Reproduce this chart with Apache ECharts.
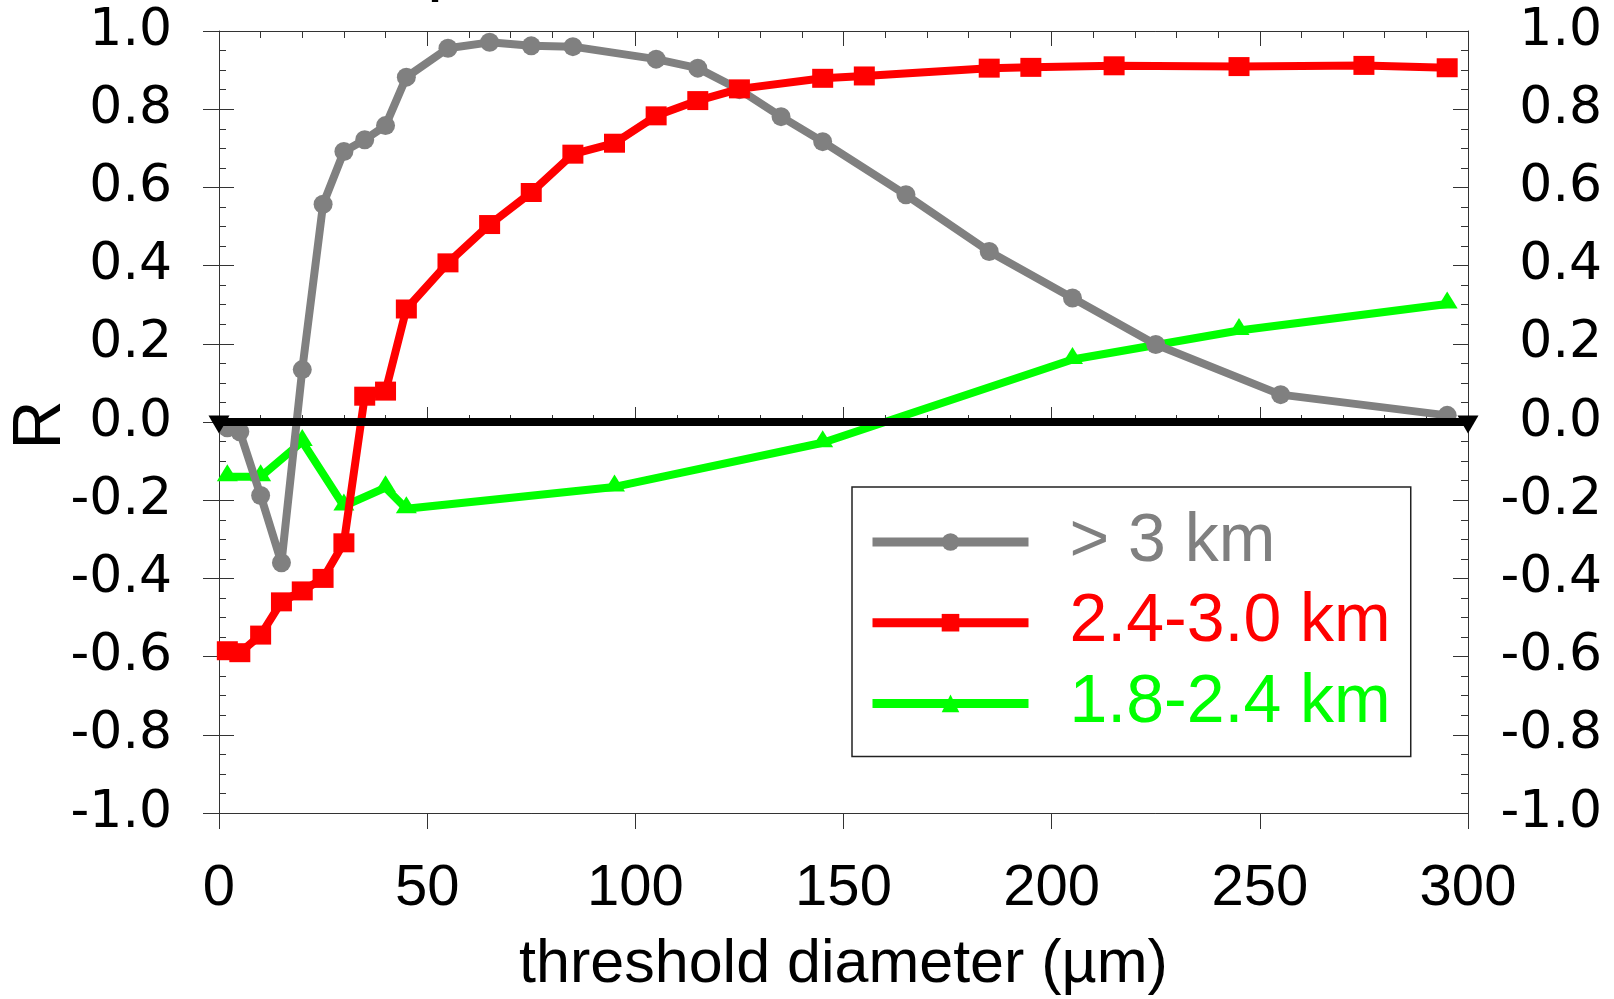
<!DOCTYPE html>
<html>
<head>
<meta charset="utf-8">
<title>R vs threshold diameter</title>
<script src="https://cdn.jsdelivr.net/npm/echarts@6/dist/echarts.min.js"></script>
<style>
  html, body { margin: 0; padding: 0; background: #fff; }
  #chart { width: 1614px; height: 999px; }
</style>
</head>
<body>
<div id="chart"></div>
<script>
// threshold diameter (um) -> correlation R, one pair of arrays per height band
var grayName = '> 3 km'
var grayX = [2, 5, 10, 15, 20, 25, 30, 35, 40, 45, 55, 65, 75, 85, 105, 115, 125, 135, 145, 165, 185, 205, 225, 255, 295]
var grayR = [-0.015, -0.025, -0.188, -0.36, 0.134, 0.557, 0.692, 0.722, 0.758, 0.882, 0.956, 0.971, 0.962, 0.96, 0.928, 0.905, 0.85, 0.781, 0.717, 0.581, 0.436, 0.317, 0.198, 0.07, 0.017]

var redName = '2.4-3.0 km'
var redX = [2, 5, 10, 15, 20, 25, 30, 35, 40, 45, 55, 65, 75, 85, 95, 105, 115, 125, 145, 155, 185, 195, 215, 245, 275, 295]
var redR = [-0.585, -0.59, -0.545, -0.46, -0.432, -0.4, -0.309, 0.066, 0.079, 0.289, 0.407, 0.505, 0.587, 0.685, 0.713, 0.783, 0.822, 0.852, 0.879, 0.885, 0.905, 0.907, 0.911, 0.909, 0.912, 0.906]

var greenName = '1.8-2.4 km'
var greenX = [2, 10, 20, 30, 40, 45, 95, 145, 205, 245, 295]
var greenR = [-0.14, -0.14, -0.05, -0.215, -0.168, -0.222, -0.166, -0.053, 0.16, 0.234, 0.302]

// zero reference line
var zeroX = [0, 300]
var zeroR = [0, 0]

var xTicks = { min: 0, max: 300, interval: 50 }
var yTicks = { min: -1, max: 1, interval: 0.2 }

function pairs(xs, ys) {
  var out = []
  xs.forEach(function (x, i) {
    out.push([x, ys[i]])
  })
  return out
}

var axisColor = '#333'
var labelFont = 'DejaVu Sans'
var textFont = 'Liberation Sans'

function yLabel(v) {
  return v.toFixed(1)
}

var chart = echarts.init(document.getElementById('chart'))

var option = {
  animation: false,
  backgroundColor: '#fff',
  grid: { left: 219, top: 31, width: 1249, height: 782, containLabel: false, outerBoundsMode: 'none' },
  graphic: [
    {
      // tail of a title that sits above the page
      type: 'text', x: 427, y: -33, silent: true,
      style: { text: 'p', font: '72px "Liberation Sans"', fill: '#000', verticalAlign: 'middle' }
    },
    {
      // y axis title, rotated
      type: 'text', x: 41, y: 425, rotation: Math.PI / 2, silent: true,
      style: { text: 'R', font: '68px "Liberation Sans"', fill: '#000', align: 'center', verticalAlign: 'middle' }
    }
  ],
  legend: {
    orient: 'vertical',
    left: 852,
    top: 487,
    padding: [21, 20, 19, 16],
    itemWidth: 156,
    itemHeight: 22,
    itemGap: 12.7,
    borderColor: '#222',
    borderWidth: 1.5,
    backgroundColor: '#fff',
    lineStyle: { width: 9 },
    textStyle: { fontFamily: textFont, fontSize: 68, padding: [4, 0, 0, 36] },
    data: [
      { name: grayName, textStyle: { color: '#808080' } },
      { name: redName, textStyle: { color: '#ff0000' } },
      { name: greenName, textStyle: { color: '#00ff00' } }
    ]
  },
  xAxis: [
    {
      type: 'value', position: 'bottom', min: xTicks.min, max: xTicks.max, interval: xTicks.interval,
      name: 'threshold diameter (\u00b5m)', nameLocation: 'middle', nameGap: 122,
      nameTextStyle: { fontFamily: textFont, fontSize: 61, color: '#000' },
      axisLine: { show: true, onZero: false, lineStyle: { color: axisColor, width: 1 } },
      axisTick: { show: true, inside: false, length: 16, lineStyle: { color: axisColor } },
      axisLabel: { fontFamily: textFont, fontSize: 58, color: '#000', margin: 47 },
      splitLine: { show: false }
    },
    {
      type: 'value', position: 'bottom', min: xTicks.min, max: xTicks.max, interval: xTicks.interval,
      axisLine: { show: false },
      axisTick: { show: true, inside: true, length: 15, lineStyle: { color: axisColor } },
      minorTick: { show: true, splitNumber: 5, length: 7, lineStyle: { color: axisColor } },
      axisLabel: { show: false },
      splitLine: { show: false }
    },
    {
      type: 'value', position: 'top', min: xTicks.min, max: xTicks.max, interval: xTicks.interval,
      axisLine: { show: true, onZero: false, lineStyle: { color: axisColor, width: 1 } },
      axisTick: { show: true, inside: true, length: 15, lineStyle: { color: axisColor } },
      minorTick: { show: true, splitNumber: 5, length: 7, lineStyle: { color: axisColor } },
      axisLabel: { show: false },
      splitLine: { show: false }
    }
  ],
  yAxis: [
    {
      type: 'value', position: 'left', min: yTicks.min, max: yTicks.max, interval: yTicks.interval,
      axisLine: { show: true, onZero: false, lineStyle: { color: axisColor, width: 1 } },
      axisTick: { show: true, inside: false, length: 16, lineStyle: { color: axisColor } },
      axisLabel: { fontFamily: labelFont, fontSize: 52, color: '#000', margin: 47, formatter: yLabel },
      splitLine: { show: false }
    },
    {
      type: 'value', position: 'left', min: yTicks.min, max: yTicks.max, interval: yTicks.interval,
      axisLine: { show: false },
      axisTick: { show: true, inside: true, length: 15, lineStyle: { color: axisColor } },
      minorTick: { show: true, splitNumber: 4, length: 7, lineStyle: { color: axisColor } },
      axisLabel: { show: false },
      splitLine: { show: false }
    },
    {
      type: 'value', position: 'right', min: yTicks.min, max: yTicks.max, interval: yTicks.interval,
      axisLine: { show: true, onZero: false, lineStyle: { color: axisColor, width: 1 } },
      axisTick: { show: true, inside: true, length: 15, lineStyle: { color: axisColor } },
      minorTick: { show: true, splitNumber: 4, length: 7, lineStyle: { color: axisColor } },
      axisLabel: { fontFamily: labelFont, fontSize: 52, color: '#000', margin: 134, align: 'right', formatter: yLabel },
      splitLine: { show: false }
    }
  ],
  series: [
    {
      name: greenName, type: 'line', data: pairs(greenX, greenR), clip: false,
      symbol: 'triangle', symbolSize: [21, 17], symbolOffset: [0, -4],
      itemStyle: { color: '#00ff00' }, lineStyle: { color: '#00ff00', width: 8 },
      emphasis: { disabled: true }, z: 2
    },
    {
      name: grayName, type: 'line', data: pairs(grayX, grayR), clip: false,
      symbol: 'circle', symbolSize: 19,
      itemStyle: { color: '#808080' }, lineStyle: { color: '#808080', width: 8 },
      emphasis: { disabled: true }, z: 3
    },
    {
      name: redName, type: 'line', data: pairs(redX, redR), clip: false,
      symbol: 'rect', symbolSize: [21, 19],
      itemStyle: { color: '#ff0000' }, lineStyle: { color: '#ff0000', width: 8 },
      emphasis: { disabled: true }, z: 4
    },
    {
      name: 'zero', type: 'line', data: pairs(zeroX, zeroR), clip: false,
      symbol: 'triangle', symbolRotate: 180, symbolSize: [21, 18], symbolOffset: [0, 2.5],
      itemStyle: { color: '#000' }, lineStyle: { color: '#000', width: 8 },
      emphasis: { disabled: true }, z: 5
    }
  ]
}

chart.setOption(option)
</script>
</body>
</html>
